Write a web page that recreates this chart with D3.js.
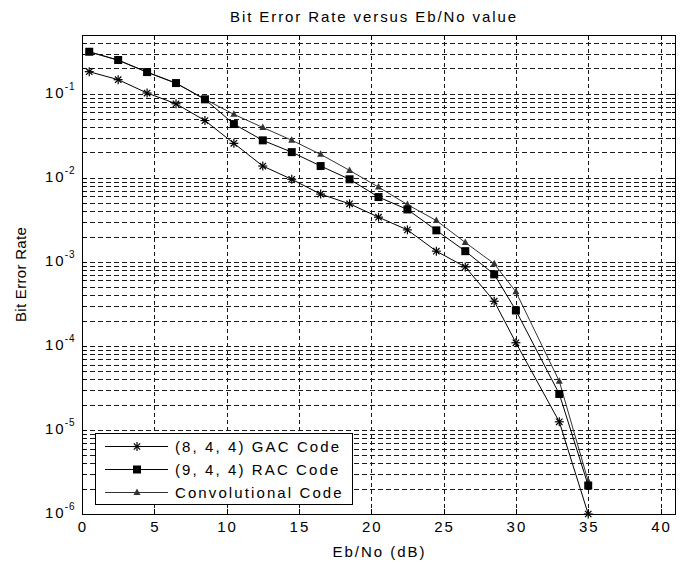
<!DOCTYPE html>
<html>
<head>
<meta charset="utf-8">
<script src="https://cdn.jsdelivr.net/npm/d3@7"></script>
<style>
  body { margin: 0; background: #fff; }
  text { font-family: "Liberation Sans", Arial, sans-serif; fill: #000; }
</style>
</head>
<body>
<svg id="chart"></svg>
<script>
// === Data ===
const ebno = [0.5, 2.5, 4.5, 6.5, 8.5, 10.5, 12.5, 14.5, 16.5, 18.5, 20.5, 22.5, 24.5, 26.5, 28.5, 30, 33, 35];
const gacBer = [0.183, 0.147, 0.102, 0.076, 0.048, 0.0257, 0.0138, 0.0096, 0.0064, 0.0049, 0.0034, 0.0024, 0.00134, 0.00087, 0.00034, 0.000109, 1.25e-5, 1e-6];
const racBer = [0.316, 0.252, 0.181, 0.134, 0.0858, 0.0436, 0.0279, 0.0202, 0.0138, 0.0096, 0.0059, 0.0042, 0.00237, 0.00134, 0.00071, 0.000264, 2.68e-5, 2.18e-6];
const convBer = [0.315, 0.25, 0.18, 0.133, 0.086, 0.0569, 0.0397, 0.028, 0.019, 0.01225, 0.00775, 0.0048, 0.0031, 0.0017, 0.00095, 0.00044, 3.8e-5, 2.45e-6];
const seriesNames = ["(8, 4, 4) GAC Code", "(9, 4, 4) RAC Code", "Convolutional Code"];
const xTicks = [0, 5, 10, 15, 20, 25, 30, 35, 40];
const yDecades = [-6, -5, -4, -3, -2, -1];

const W = 690, H = 563;
const svg = d3.select("#chart").attr("width", W).attr("height", H);
const pLeft = 82, pRight = 675, pTop = 35, pBottom = 514;

const x = d3.scaleLinear().domain([0, 41]).range([pLeft, pRight]);
const y = d3.scaleLog().domain([1e-6, 0.5]).range([pBottom, pTop]);

// minor + major log grid values
const yGrid = [];
for (let e = -6; e <= -1; e++) {
  for (let m = 1; m <= 9; m++) {
    const v = m * Math.pow(10, e);
    if (v > 1e-6 && v <= 0.5) yGrid.push(v);
  }
}

const grid = svg.append("g").attr("stroke", "#000").attr("stroke-width", 1)
  .attr("stroke-dasharray", "5,3").attr("opacity", 0.9);
grid.selectAll(".hg").data(yGrid).enter().append("line")
  .attr("x1", pLeft).attr("x2", pRight)
  .attr("y1", d => Math.round(y(d)) + 0.5).attr("y2", d => Math.round(y(d)) + 0.5);
grid.selectAll(".vg").data(xTicks.filter(d => d > 0)).enter().append("line")
  .attr("stroke-dasharray", "4,3")
  .attr("y1", pTop).attr("y2", pBottom)
  .attr("x1", d => Math.round(x(d)) + 0.5).attr("x2", d => Math.round(x(d)) + 0.5);

// ticks on all four sides, inside
const ticks = svg.append("g").attr("stroke", "#000").attr("stroke-width", 1);
xTicks.forEach(t => {
  const px = Math.round(x(t)) + 0.5;
  ticks.append("line").attr("x1", px).attr("x2", px).attr("y1", pBottom).attr("y2", pBottom - 5);
  ticks.append("line").attr("x1", px).attr("x2", px).attr("y1", pTop).attr("y2", pTop + 5);
});
yGrid.forEach(v => {
  const py = Math.round(y(v)) + 0.5;
  const major = Math.abs(Math.log10(v) - Math.round(Math.log10(v))) < 1e-9;
  const len = major ? 5 : 3;
  ticks.append("line").attr("x1", pLeft).attr("x2", pLeft + len).attr("y1", py).attr("y2", py);
  ticks.append("line").attr("x1", pRight).attr("x2", pRight - len).attr("y1", py).attr("y2", py);
});

// axes box
svg.append("rect").attr("x", pLeft + 0.5).attr("y", pTop + 0.5)
  .attr("width", pRight - pLeft).attr("height", pBottom - pTop)
  .attr("fill", "none").attr("stroke", "#000").attr("stroke-width", 1);

// x tick labels
svg.append("g").selectAll("text").data(xTicks).enter().append("text")
  .attr("x", d => x(d) + 1).attr("y", 532)
  .attr("text-anchor", "middle").style("font-size", "15px").style("letter-spacing", "2px")
  .text(d => d);

// y tick labels 10^k
const yl = svg.append("g").selectAll("text").data(yDecades).enter().append("text")
  .attr("x", 45).attr("y", d => y(Math.pow(10, d)) + 4)
  .style("font-size", "15px").style("letter-spacing", "2px");
yl.append("tspan").text("10");
yl.append("tspan").attr("dy", -8).attr("dx", -1).style("font-size", "10px").style("letter-spacing", "1px")
  .text(d => "-" + Math.abs(d));

// series
const series = [
  { name: seriesNames[0], values: gacBer, color: "#000", marker: "star" },
  { name: seriesNames[1], values: racBer, color: "#000", marker: "square" },
  { name: seriesNames[2], values: convBer, color: "#333", marker: "triangle" }
];

const line = d3.line().x(d => x(d[0])).y(d => y(d[1]));

function drawMarker(g, type, cx, cy, color) {
  if (type === "star") {
    const r = 4.5;
    const p = g.append("g").attr("stroke", color).attr("stroke-width", 1.2);
    p.append("line").attr("x1", cx - r).attr("x2", cx + r).attr("y1", cy).attr("y2", cy);
    p.append("line").attr("x1", cx).attr("x2", cx).attr("y1", cy - r).attr("y2", cy + r);
    p.append("line").attr("x1", cx - 3.2).attr("x2", cx + 3.2).attr("y1", cy - 3.2).attr("y2", cy + 3.2);
    p.append("line").attr("x1", cx - 3.2).attr("x2", cx + 3.2).attr("y1", cy + 3.2).attr("y2", cy - 3.2);
  } else if (type === "square") {
    g.append("rect").attr("x", cx - 4).attr("y", cy - 4).attr("width", 8).attr("height", 8)
      .attr("fill", color);
  } else {
    g.append("path").attr("d", `M${cx},${cy - 4}L${cx + 3.5},${cy + 2.5}L${cx - 3.5},${cy + 2.5}Z`)
      .attr("fill", color);
  }
}

series.slice().reverse().forEach(s => {
  const pts = ebno.map((e, i) => [e, s.values[i]]);
  svg.append("path").datum(pts).attr("fill", "none").attr("stroke", s.color)
    .attr("stroke-width", 1).attr("d", line);
  const mg = svg.append("g");
  pts.forEach(p => drawMarker(mg, s.marker, x(p[0]), y(p[1]), s.color));
});

// legend
const lg = svg.append("g");
lg.append("rect").attr("x", 95.5).attr("y", 433.5).attr("width", 257).attr("height", 71)
  .attr("fill", "#fff").attr("stroke", "#000").attr("stroke-width", 1);
series.forEach((s, i) => {
  const ly = 446 + i * 23;
  lg.append("line").attr("x1", 105).attr("x2", 168).attr("y1", ly + 0.5).attr("y2", ly + 0.5)
    .attr("stroke", s.color).attr("stroke-width", 1);
  drawMarker(lg, s.marker, 137, ly + 0.5, s.color);
  lg.append("text").attr("x", 175).attr("y", ly + 6)
    .style("font-size", "15px").style("letter-spacing", "2.1px").text(s.name);
});

// title and axis labels
svg.append("text").attr("x", 374).attr("y", 22).attr("text-anchor", "middle")
  .style("font-size", "15px").style("letter-spacing", "1.9px").text("Bit Error Rate versus Eb/No value");
svg.append("text").attr("x", (pLeft + pRight) / 2 + 1).attr("y", 557).attr("text-anchor", "middle")
  .style("font-size", "15px").style("letter-spacing", "2px").text("Eb/No (dB)");
svg.append("text").attr("transform", `translate(26,${(pTop + pBottom) / 2}) rotate(-90)`)
  .attr("text-anchor", "middle").style("font-size", "15px").style("letter-spacing", "0.3px").text("Bit Error Rate");
</script>
</body>
</html>
